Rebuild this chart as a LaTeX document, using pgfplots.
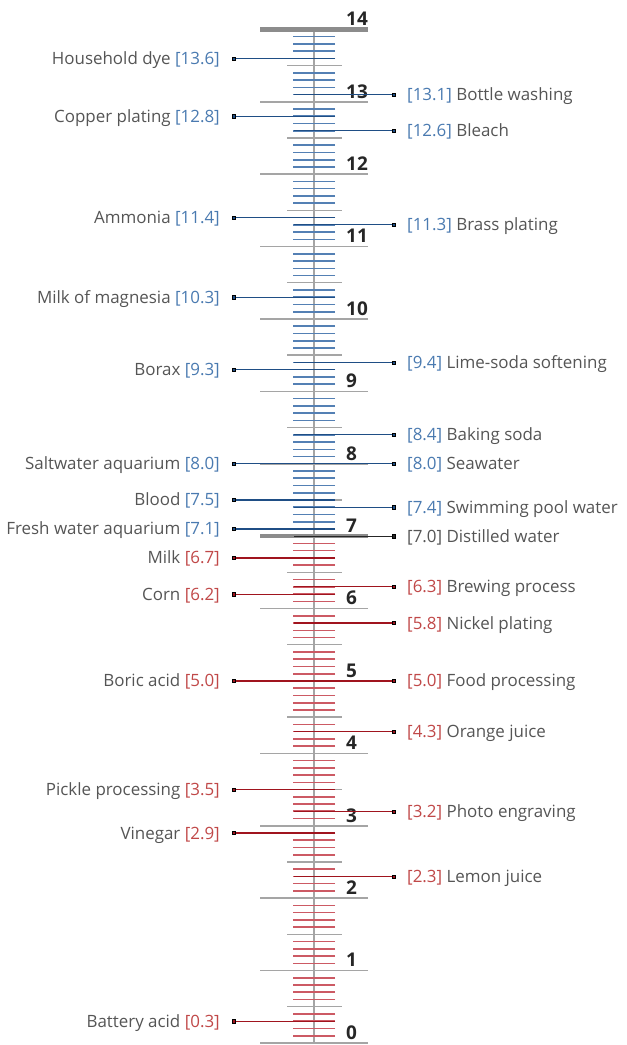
\documentclass[border=0pt]{standalone}
\usepackage{pgfplots}
\pgfplotsset{compat=1.18}
\usepackage{fontspec}
\setmainfont{Open Sans}
\definecolor{tickblue}{RGB}{84,128,180}
\definecolor{tickred}{RGB}{204,90,100}
\definecolor{leadblue}{RGB}{31,78,133}
\definecolor{leadred}{RGB}{160,20,30}
\definecolor{valblue}{RGB}{74,122,176}
\definecolor{valred}{RGB}{192,72,72}
\definecolor{txtgray}{RGB}{85,85,85}
\definecolor{scalegray}{RGB}{165,165,165}
\definecolor{thickgray}{RGB}{140,140,140}
\begin{document}
\begin{tikzpicture}[font=\fontsize{17}{20}\selectfont]
\useasboundingbox (0,0) rectangle (627bp,1045bp);
\begin{axis}[at={(0,0)}, anchor=south west, scale only axis, width=627bp, height=1045bp,
  xmin=0, xmax=627, ymin=-0.028, ymax=14.406, hide axis, clip=false]
% centre line
\addplot[scalegray, line width=1.2bp] coordinates {(314,0) (314,14)};
% minor ticks blue
\addplot[only marks, mark=-, mark size=21bp, mark options={draw=tickblue, line width=1.6bp}]
 table[x expr=314, y=y, row sep=\\]{
y\\ 7.1\\ 7.2\\ 7.3\\ 7.4\\ 7.6\\ 7.7\\ 7.8\\ 7.9\\
8.1\\ 8.2\\ 8.3\\ 8.4\\ 8.6\\ 8.7\\ 8.8\\ 8.9\\
9.1\\ 9.2\\ 9.3\\ 9.4\\ 9.6\\ 9.7\\ 9.8\\ 9.9\\
10.1\\ 10.2\\ 10.3\\ 10.4\\ 10.6\\ 10.7\\ 10.8\\ 10.9\\
11.1\\ 11.2\\ 11.3\\ 11.4\\ 11.6\\ 11.7\\ 11.8\\ 11.9\\
12.1\\ 12.2\\ 12.3\\ 12.4\\ 12.6\\ 12.7\\ 12.8\\ 12.9\\
13.1\\ 13.2\\ 13.3\\ 13.4\\ 13.6\\ 13.7\\ 13.8\\ 13.9\\
};
% minor ticks red
\addplot[only marks, mark=-, mark size=21bp, mark options={draw=tickred, line width=1.6bp}]
 table[x expr=314, y=y, row sep=\\]{
y\\ 0.1\\ 0.2\\ 0.3\\ 0.4\\ 0.6\\ 0.7\\ 0.8\\ 0.9\\
1.1\\ 1.2\\ 1.3\\ 1.4\\ 1.6\\ 1.7\\ 1.8\\ 1.9\\
2.1\\ 2.2\\ 2.3\\ 2.4\\ 2.6\\ 2.7\\ 2.8\\ 2.9\\
3.1\\ 3.2\\ 3.3\\ 3.4\\ 3.6\\ 3.7\\ 3.8\\ 3.9\\
4.1\\ 4.2\\ 4.3\\ 4.4\\ 4.6\\ 4.7\\ 4.8\\ 4.9\\
5.1\\ 5.2\\ 5.3\\ 5.4\\ 5.6\\ 5.7\\ 5.8\\ 5.9\\
6.1\\ 6.2\\ 6.3\\ 6.4\\ 6.6\\ 6.7\\ 6.8\\ 6.9\\
};
% half ticks
\addplot[only marks, mark=-, mark size=27.5bp, mark options={draw=scalegray, line width=1.4bp}]
 table[x expr=314, y=y, row sep=\\]{
y\\ 0.5\\ 1.5\\ 2.5\\ 3.5\\ 4.5\\ 5.5\\ 6.5\\ 7.5\\ 8.5\\ 9.5\\ 10.5\\ 11.5\\ 12.5\\ 13.5\\
};
% integer ticks
\addplot[only marks, mark=-, mark size=54bp, mark options={draw=scalegray, line width=1.6bp}]
 table[x expr=314, y=y, row sep=\\]{
y\\ 0\\ 1\\ 2\\ 3\\ 4\\ 5\\ 6\\ 8\\ 9\\ 10\\ 11\\ 12\\ 13\\
};
\addplot[only marks, mark=-, mark size=54bp, mark options={draw=thickgray, line width=4.2bp}]
 table[x expr=314, y=y, row sep=\\]{
y\\ 7\\ 14\\
};
% left leaders
\addplot[only marks, mark=-, mark size=50.5bp, mark options={draw=leadblue, line width=1.2bp}]
 table[x expr=284.5, y=y, row sep=\\]{
y\\ 13.6\\ 12.8\\ 11.4\\ 10.3\\ 9.3\\ 8.0\\ 7.5\\ 7.1\\
};
\addplot[only marks, mark=-, mark size=50.5bp, mark options={draw=leadred, line width=1.2bp}]
 table[x expr=284.5, y=y, row sep=\\]{
y\\ 6.7\\ 6.2\\ 5.0\\ 3.5\\ 2.9\\ 0.3\\
};
% right leaders
\addplot[only marks, mark=-, mark size=50bp, mark options={draw=leadblue, line width=1.2bp}]
 table[x expr=344, y=y, row sep=\\]{
y\\ 13.1\\ 12.6\\ 11.3\\ 9.4\\ 8.4\\ 8.0\\ 7.4\\
};
\addplot[only marks, mark=-, mark size=50bp, mark options={draw=black!85, line width=1.2bp}]
 table[x expr=344, y=y, row sep=\\]{
y\\ 7.0\\
};
\addplot[only marks, mark=-, mark size=50bp, mark options={draw=leadred, line width=1.2bp}]
 table[x expr=344, y=y, row sep=\\]{
y\\ 6.3\\ 5.8\\ 5.0\\ 4.3\\ 3.2\\ 2.3\\
};
% dots
\addplot[only marks, mark=square*, mark size=1.6bp, mark options={fill=leadblue, draw=none}]
 table[x expr=234, y=y, row sep=\\]{
y\\ 13.6\\ 12.8\\ 11.4\\ 10.3\\ 9.3\\ 8.0\\ 7.5\\ 7.1\\
};
\addplot[only marks, mark=square*, mark size=1.6bp, mark options={fill=leadred, draw=none}]
 table[x expr=234, y=y, row sep=\\]{
y\\ 6.7\\ 6.2\\ 5.0\\ 3.5\\ 2.9\\ 0.3\\
};
\addplot[only marks, mark=square*, mark size=1.6bp, mark options={fill=leadblue, draw=none}]
 table[x expr=394, y=y, row sep=\\]{
y\\ 13.1\\ 12.6\\ 11.3\\ 9.4\\ 8.4\\ 8.0\\ 7.4\\
};
\addplot[only marks, mark=square*, mark size=1.6bp, mark options={fill=black!85, draw=none}]
 table[x expr=394, y=y, row sep=\\]{
y\\ 7.0\\
};
\addplot[only marks, mark=square*, mark size=1.6bp, mark options={fill=leadred, draw=none}]
 table[x expr=394, y=y, row sep=\\]{
y\\ 6.3\\ 5.8\\ 5.0\\ 4.3\\ 3.2\\ 2.3\\
};
% integer labels
\foreach \v in {0,...,14}{
  \edef\temp{\noexpand\node[anchor=base west, inner sep=0pt, text=black!85,
    font=\noexpand\bfseries\noexpand\fontsize{19}{19}\noexpand\selectfont]
    at (axis cs:346,\v+0.05) {\v};}
  \temp
}
% left labels
\tikzset{lbl/.style={inner sep=0pt, text=txtgray, yshift=-6bp}}
\node[lbl, anchor=base east] at (axis cs:220,13.6) {Household dye \textcolor{valblue}{[13.6]}};
\node[lbl, anchor=base east] at (axis cs:220,12.8) {Copper plating \textcolor{valblue}{[12.8]}};
\node[lbl, anchor=base east] at (axis cs:220,11.4) {Ammonia \textcolor{valblue}{[11.4]}};
\node[lbl, anchor=base east] at (axis cs:220,10.3) {Milk of magnesia \textcolor{valblue}{[10.3]}};
\node[lbl, anchor=base east] at (axis cs:220,9.3) {Borax \textcolor{valblue}{[9.3]}};
\node[lbl, anchor=base east] at (axis cs:220,8.0) {Saltwater aquarium \textcolor{valblue}{[8.0]}};
\node[lbl, anchor=base east] at (axis cs:220,7.5) {Blood \textcolor{valblue}{[7.5]}};
\node[lbl, anchor=base east] at (axis cs:220,7.1) {Fresh water aquarium \textcolor{valblue}{[7.1]}};
\node[lbl, anchor=base east] at (axis cs:220,6.7) {Milk \textcolor{valred}{[6.7]}};
\node[lbl, anchor=base east] at (axis cs:220,6.2) {Corn \textcolor{valred}{[6.2]}};
\node[lbl, anchor=base east] at (axis cs:220,5.0) {Boric acid \textcolor{valred}{[5.0]}};
\node[lbl, anchor=base east] at (axis cs:220,3.5) {Pickle processing \textcolor{valred}{[3.5]}};
\node[lbl, anchor=base east] at (axis cs:220,2.9) {Vinegar \textcolor{valred}{[2.9]}};
\node[lbl, anchor=base east] at (axis cs:220,0.3) {Battery acid \textcolor{valred}{[0.3]}};
% right labels
\node[lbl, anchor=base west] at (axis cs:407,13.1) {\textcolor{valblue}{[13.1]} Bottle washing};
\node[lbl, anchor=base west] at (axis cs:407,12.6) {\textcolor{valblue}{[12.6]} Bleach};
\node[lbl, anchor=base west] at (axis cs:407,11.3) {\textcolor{valblue}{[11.3]} Brass plating};
\node[lbl, anchor=base west] at (axis cs:407,9.4) {\textcolor{valblue}{[9.4]} Lime-soda softening};
\node[lbl, anchor=base west] at (axis cs:407,8.4) {\textcolor{valblue}{[8.4]} Baking soda};
\node[lbl, anchor=base west] at (axis cs:407,8.0) {\textcolor{valblue}{[8.0]} Seawater};
\node[lbl, anchor=base west] at (axis cs:407,7.4) {\textcolor{valblue}{[7.4]} Swimming pool water};
\node[lbl, anchor=base west] at (axis cs:407,7.0) {[7.0] Distilled water};
\node[lbl, anchor=base west] at (axis cs:407,6.3) {\textcolor{valred}{[6.3]} Brewing process};
\node[lbl, anchor=base west] at (axis cs:407,5.8) {\textcolor{valred}{[5.8]} Nickel plating};
\node[lbl, anchor=base west] at (axis cs:407,5.0) {\textcolor{valred}{[5.0]} Food processing};
\node[lbl, anchor=base west] at (axis cs:407,4.3) {\textcolor{valred}{[4.3]} Orange juice};
\node[lbl, anchor=base west] at (axis cs:407,3.2) {\textcolor{valred}{[3.2]} Photo engraving};
\node[lbl, anchor=base west] at (axis cs:407,2.3) {\textcolor{valred}{[2.3]} Lemon juice};
\end{axis}
\end{tikzpicture}
\end{document}
